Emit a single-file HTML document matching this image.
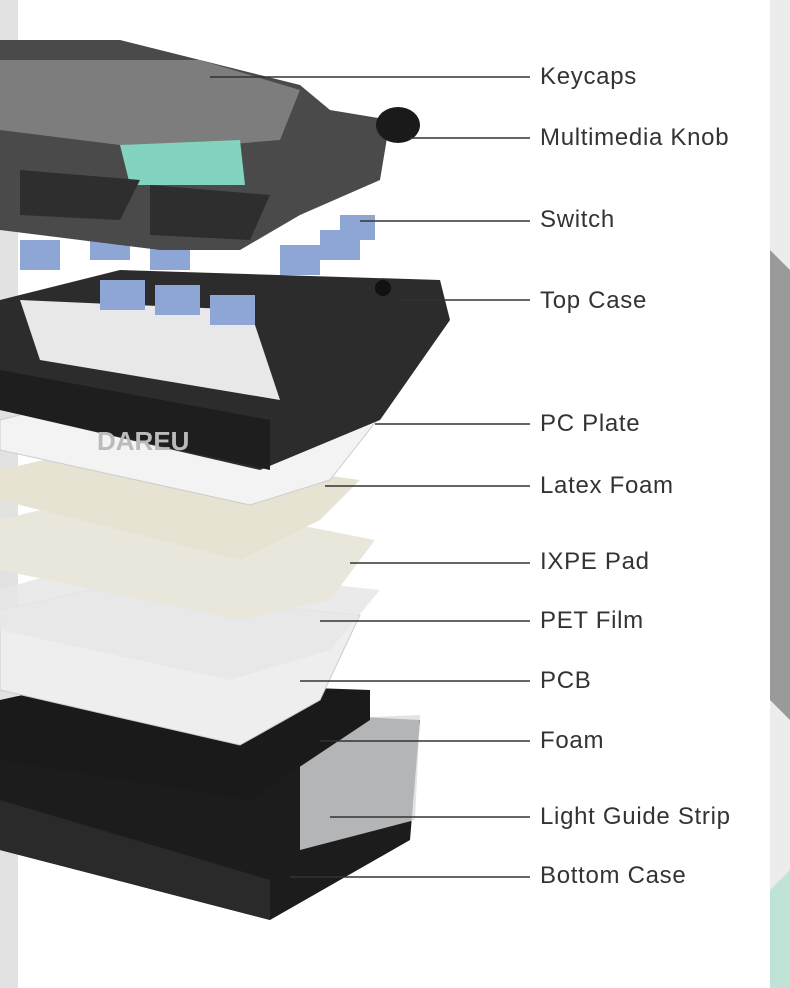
<!DOCTYPE html>
<html><head><meta charset="utf-8"><style>
html,body{margin:0;padding:0;background:#fff;}
body{width:790px;height:988px;position:relative;overflow:hidden;font-family:"Liberation Sans",sans-serif;}
.lbl{position:absolute;left:540px;font-size:24px;color:#333;letter-spacing:0.7px;line-height:1;}
</style></head><body>
<svg width="790" height="988" style="position:absolute;left:0;top:0">
<rect x="0" y="0" width="18" height="988" fill="#e2e2e2"/>
<rect x="770" y="0" width="20" height="988" fill="#ececec"/>
<polygon points="770,250 790,270 790,720 770,700" fill="#9a9a9a"/>
<polygon points="770,890 790,870 790,988 770,988" fill="#bfe3d6"/>
<polygon points="0,740 40,700 420,720 410,840 270,920 0,850" fill="#1c1c1c"/>
<polygon points="0,800 270,880 270,920 0,850" fill="#2a2a2a"/>
<polygon points="300,720 420,715 415,820 300,850" fill="#d9dcdf" opacity="0.8"/>
<polygon points="0,700 90,680 370,690 370,720 250,800 0,760" fill="#1a1a1a"/>
<polygon points="0,610 90,590 360,615 320,700 240,745 0,690" fill="#eeeeee" stroke="#ccc"/>
<polygon points="0,590 100,560 380,590 330,650 230,680 0,630" fill="#e6e6e6" opacity="0.85"/>
<polygon points="0,520 120,490 375,540 330,600 240,620 0,570" fill="#e9e6dc"/>
<polygon points="0,470 110,445 360,480 320,520 240,560 0,500" fill="#e7e3d2"/>
<polygon points="0,420 100,395 385,410 330,480 250,505 0,450" fill="#f3f3f3" stroke="#ccc"/>
<polygon points="0,300 120,270 440,280 450,320 380,420 260,470 0,410" fill="#2c2c2c"/>
<polygon points="0,370 270,420 270,470 0,410" fill="#1e1e1e"/>
<polygon points="20,300 250,310 280,400 40,360" fill="#e8e8e8"/>
<text x="97" y="450" font-family="Liberation Sans" font-weight="bold" font-size="26" fill="#bbb">DAREU</text>
<circle cx="383" cy="288" r="8" fill="#111"/>
<g fill="#8ea6d6">
<rect x="20" y="240" width="40" height="30"/><rect x="90" y="230" width="40" height="30"/><rect x="150" y="240" width="40" height="30"/>
<rect x="100" y="280" width="45" height="30"/><rect x="155" y="285" width="45" height="30"/><rect x="210" y="295" width="45" height="30"/>
<rect x="280" y="245" width="40" height="30"/><rect x="320" y="230" width="40" height="30"/><rect x="340" y="215" width="35" height="25"/>
</g>
<polygon points="0,40 120,40 300,85 330,110 390,120 380,180 300,215 240,250 160,250 0,230" fill="#4a4a4a"/>
<polygon points="0,60 200,60 300,90 280,140 160,150 0,130" fill="#7d7d7d"/>
<polygon points="120,145 240,140 245,185 130,185" fill="#82d3c0"/>
<polygon points="20,170 140,180 120,220 20,215" fill="#2e2e2e"/>
<polygon points="150,185 270,195 250,240 150,235" fill="#2e2e2e"/>
<ellipse cx="398" cy="125" rx="22" ry="18" fill="#1a1a1a"/>
<g stroke="#333" stroke-width="1.5">
<line x1="210" y1="77" x2="530" y2="77"/>
<line x1="410" y1="138" x2="530" y2="138"/>
<line x1="360" y1="221" x2="530" y2="221"/>
<line x1="400" y1="300" x2="530" y2="300"/>
<line x1="375" y1="424" x2="530" y2="424"/>
<line x1="325" y1="486" x2="530" y2="486"/>
<line x1="350" y1="563" x2="530" y2="563"/>
<line x1="320" y1="621" x2="530" y2="621"/>
<line x1="300" y1="681" x2="530" y2="681"/>
<line x1="320" y1="741" x2="530" y2="741"/>
<line x1="330" y1="817" x2="530" y2="817"/>
<line x1="290" y1="877" x2="530" y2="877"/>
</g>
</svg>
<div class="lbl" style="top:65px">Keycaps</div>
<div class="lbl" style="top:126px">Multimedia Knob</div>
<div class="lbl" style="top:208px">Switch</div>
<div class="lbl" style="top:289px">Top Case</div>
<div class="lbl" style="top:412px">PC Plate</div>
<div class="lbl" style="top:474px">Latex Foam</div>
<div class="lbl" style="top:550px">IXPE Pad</div>
<div class="lbl" style="top:609px">PET Film</div>
<div class="lbl" style="top:669px">PCB</div>
<div class="lbl" style="top:729px">Foam</div>
<div class="lbl" style="top:805px">Light Guide Strip</div>
<div class="lbl" style="top:864px">Bottom Case</div>
</body></html>
